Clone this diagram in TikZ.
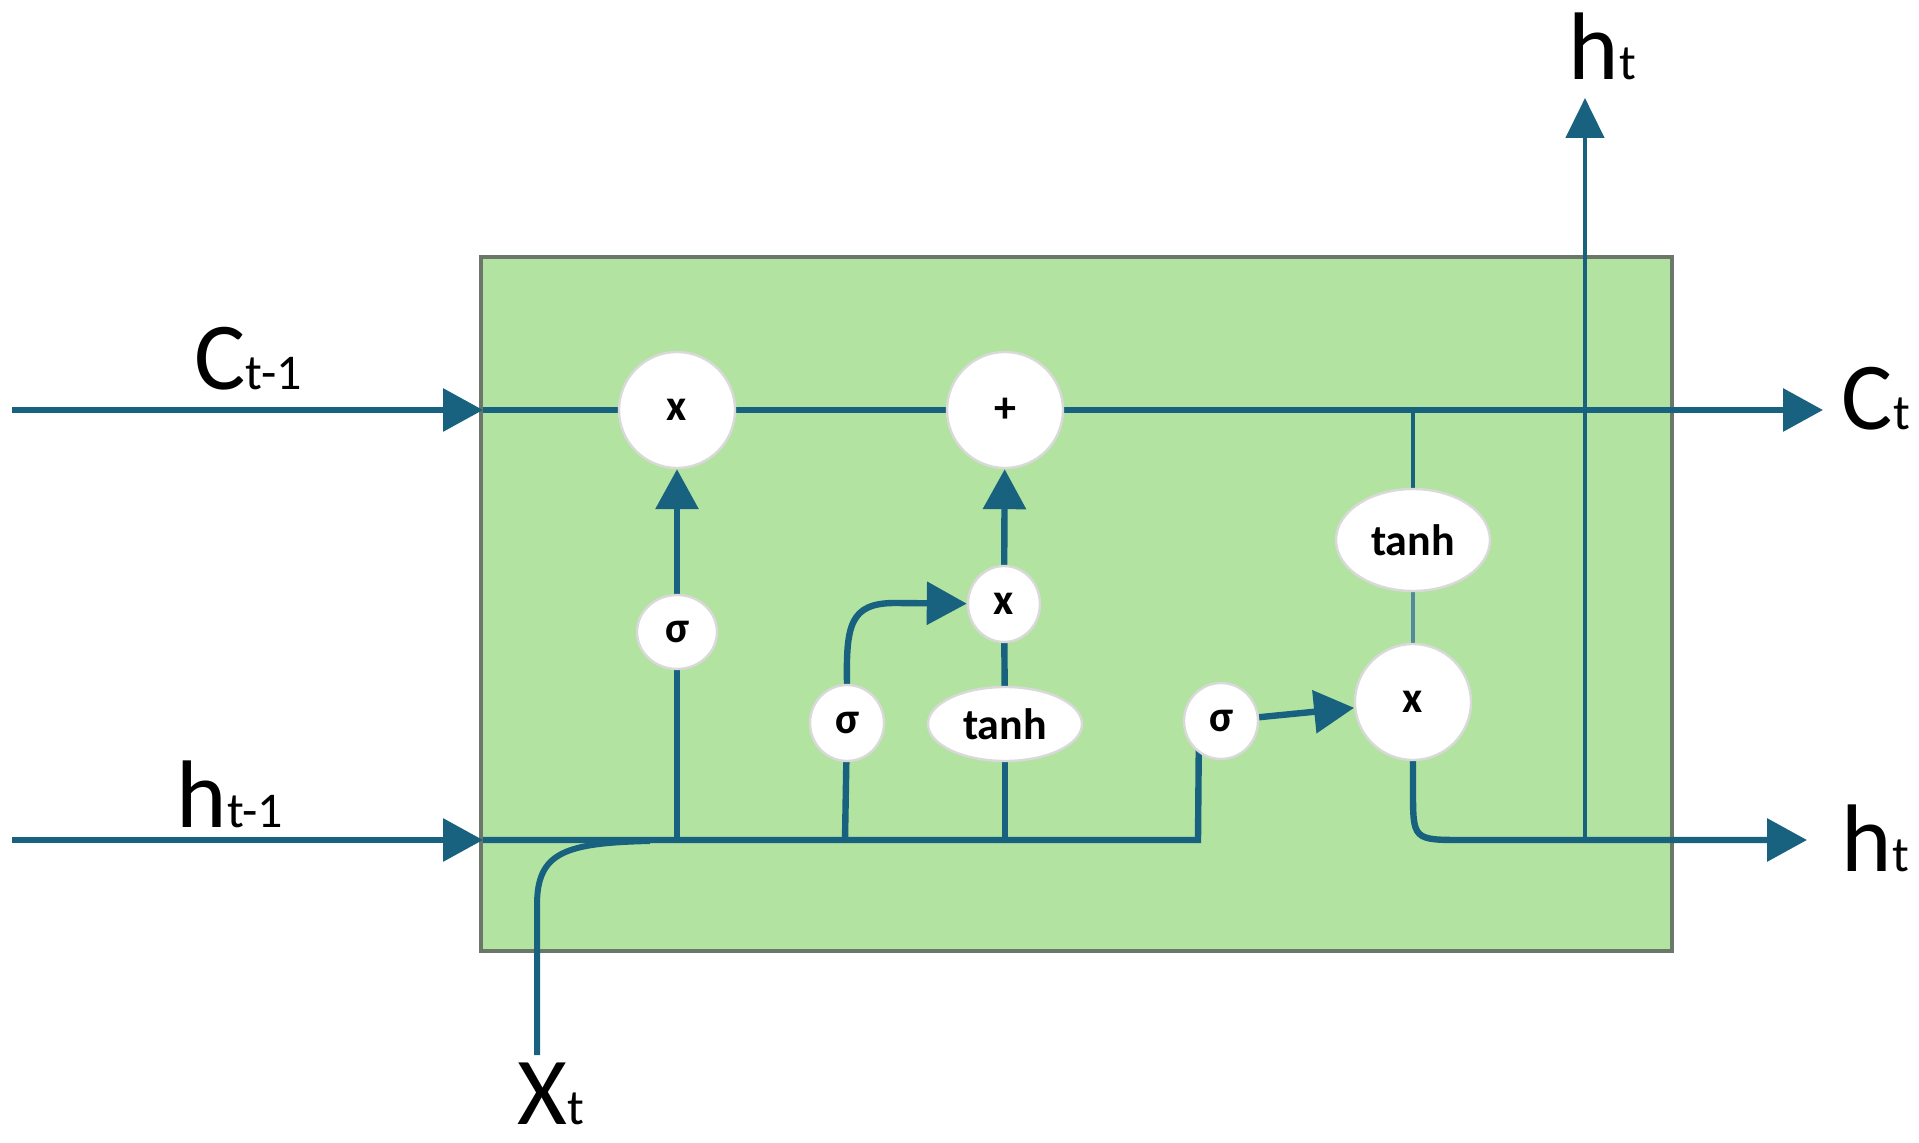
\documentclass[tikz,border=0pt]{standalone}
\usepackage{fontspec}
\setmainfont{Carlito}
\usetikzlibrary{arrows.meta,shapes.geometric,calc}
\pgfdeclarelayer{bg}
\pgfsetlayers{bg,main}
\definecolor{linec}{HTML}{18627F}
\definecolor{boxfill}{HTML}{B3E3A1}
\definecolor{boxline}{HTML}{6B7768}
\definecolor{nodeline}{HTML}{D9D9D9}
\tikzset{
  conn/.style={draw=linec, line width=1.6pt},
  thinconn/.style={draw=linec, line width=0.8pt},
  arr/.style={conn, -{Triangle[length=10pt,width=10.5pt]}},
  op/.style={circle, fill=white, draw=nodeline, line width=0.6pt, inner sep=0pt, minimum size=29pt, font=\fontsize{11}{12}\selectfont\bfseries},
  gate/.style={ellipse, fill=white, draw=nodeline, line width=0.6pt, inner sep=0pt, font=\fontsize{11}{12}\selectfont\bfseries},
  lbl/.style={anchor=base west, inner sep=0pt, text=black},
}
\newcommand{\varlbl}[2]{{\fontsize{24}{28}\selectfont #1}{\fontsize{12.5}{14}\selectfont #2}}
\begin{document}
\begin{tikzpicture}[x=0.25pt, y=-0.25pt]
\useasboundingbox (0,0) rectangle (1919,1143);

% operation nodes
\node[op] (x1) at (677,410) {x};
\node[op] (plus) at (1005,410) {+};
\node[gate, minimum width=20pt, minimum height=18.5pt] (s1) at (677,632) {σ};
\node[gate, minimum width=18pt, minimum height=19pt] (xm) at (1004,604) {x};
\node[gate, minimum width=18.5pt, minimum height=19pt] (s2) at (847,723) {σ};
\node[gate, minimum width=38.5pt, minimum height=18.5pt] (th1) at (1005,724) {tanh};
\node[gate, minimum width=18.5pt, minimum height=19pt] (s3) at (1221,721) {σ};
\node[op] (x3) at (1413,702) {x};
\node[gate, minimum width=38.5pt, minimum height=25.5pt] (th2) at (1413,540) {tanh};

% coordinates
\coordinate (cin) at (12,410);
\coordinate (cbox) at (483,410);
\coordinate (cout) at (1823,410);
\coordinate (cjt) at (1413,410);
\coordinate (hin) at (12,840);
\coordinate (hbox) at (483,840);
\coordinate (j1) at (677,840);
\coordinate (j2) at (845,840);
\coordinate (jt) at (1005,840);
\coordinate (j3) at (1198,840);
\coordinate (jh) at (1585,840);
\coordinate (htop) at (1585,98);
\coordinate (hout) at (1807,840);
\coordinate (xt0) at (537,1055);

% labels
\node[lbl] (lct1) at (194,390) {\varlbl{C}{t-1}};
\node[lbl] (lht1) at (176,828) {\varlbl{h}{t-1}};
\node[lbl] (lxt) at (517,1124) {\varlbl{X}{t}};
\node[lbl] (lhtop) at (1568,80) {\varlbl{h}{t}};
\node[lbl] (lct) at (1841,430) {\varlbl{C}{t}};
\node[lbl] (lht) at (1841,872) {\varlbl{h}{t}};

\begin{pgfonlayer}{bg}
  \fill[boxfill] (481,257) rectangle (1672,951);
  \draw[boxline, line width=1.1pt] (481,257) rectangle (1672,951);
  % cell state
  \draw[arr] (cin) -- (cbox);
  \draw[conn] (cbox) -- (x1);
  \draw[conn] (x1) -- (plus);
  \draw[arr] (plus) -- (cout);
  % hidden / input line
  \draw[arr] (hin) -- (hbox);
  \draw[conn] (hbox) -- (j3) -- ($(s3.center)+(-22,0)$);
  \draw[conn, line width=1.5pt] (xt0) -- (537,905) .. controls (537,852) and (565,843) .. (650,841);
  % forget gate
  \draw[conn] (j1) -- (s1);
  \draw[arr] (s1) -- (x1);
  % input gate
  \draw[conn] (j2) -- (s2);
  \draw[arr] (s2.north) .. controls (846,625) and (850,603) .. (895,603) -- (xm);
  \draw[conn] (jt) -- (th1);
  \draw[conn] (th1) -- (xm);
  \draw[arr] (xm) -- (plus);
  % output gate
  \draw[arr] (s3) -- (x3);
  \draw[thinconn] (cjt) -- (th2);
  \draw[draw=linec!75, line width=1pt] (th2) -- (x3);
  \draw[arr] (x3.south) -- (1413,790) .. controls (1413,840) .. (1463,840) -- (hout);
  \draw[draw=linec, line width=1.2pt, -{Triangle[length=10pt,width=9.5pt]}] (jh) -- (htop);
\end{pgfonlayer}
\end{tikzpicture}
\end{document}
